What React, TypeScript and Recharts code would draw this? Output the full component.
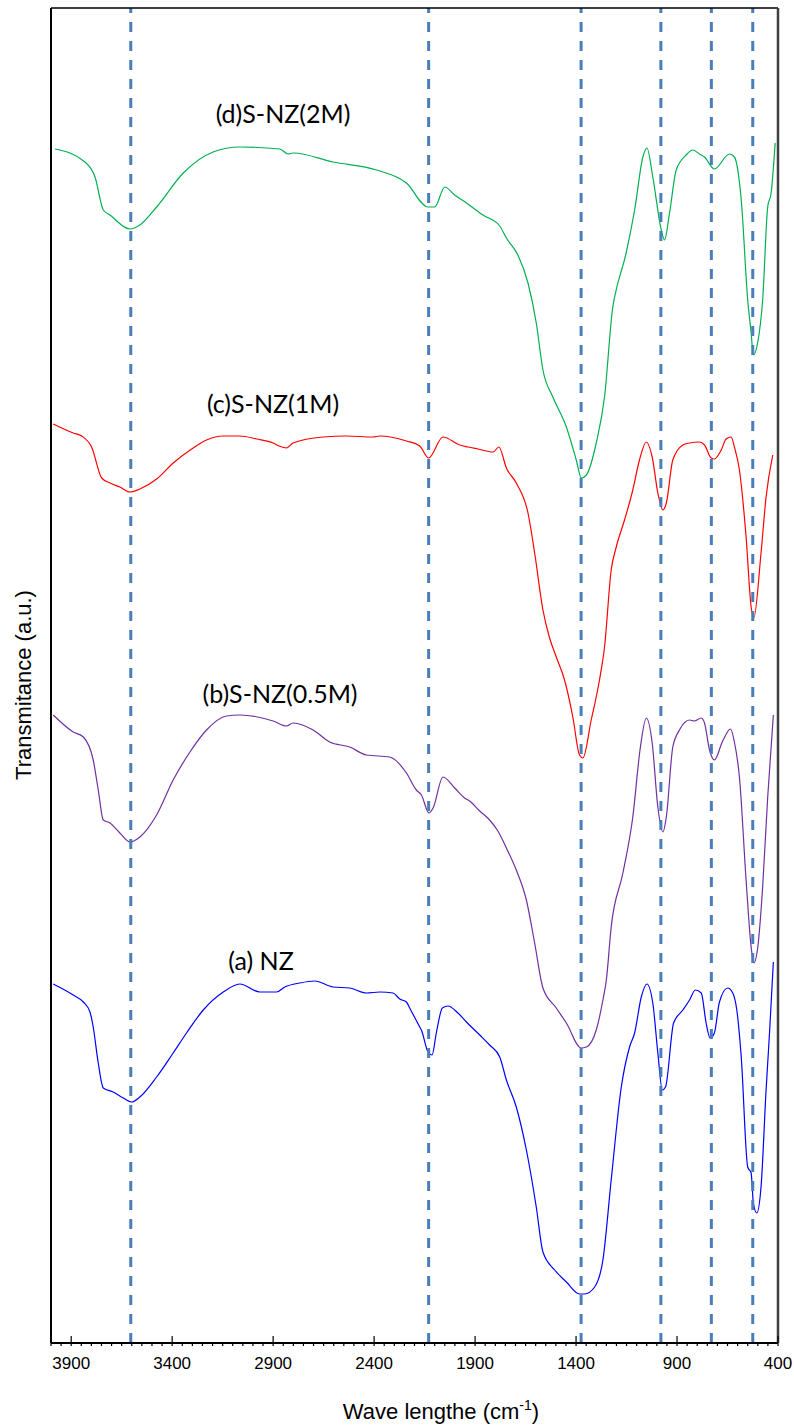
import { LineChart, Line, XAxis, YAxis, ReferenceLine } from 'recharts'

const W = 794
const H = 1427

// FTIR spectra, wavenumber (cm-1) vs transmittance (a.u., curves stacked)
const wnD = [3980, 3832, 3782, 3741, 3708, 3609, 3560, 3477, 3345, 3197, 3065, 2867, 2826, 2801, 2603, 2388, 2240, 2133, 2100, 2050, 2001, 1943, 1861, 1778, 1745, 1688, 1638, 1597, 1564, 1515, 1448, 1399, 1374, 1349, 1300, 1259, 1218, 1209, 1152, 1110, 1069, 1049, 1020, 978, 962, 937, 904, 855, 822, 789, 764, 715, 640, 616, 582, 550, 533, 522, 500, 476, 451, 434, 414]
const tD = [1194, 1181, 1166, 1133, 1128, 1114, 1118, 1136, 1170, 1191, 1196, 1194, 1189, 1190, 1181, 1173, 1160, 1136, 1136, 1156, 1148, 1140, 1128, 1117, 1105, 1088, 1060, 1020, 973, 946, 916, 883, 865, 868, 900, 946, 1036, 1046, 1090, 1133, 1186, 1195, 1166, 1113, 1103, 1130, 1173, 1188, 1193, 1189, 1186, 1174, 1189, 1186, 1143, 1043, 1010, 988, 1001, 1043, 1136, 1150, 1200]

const wnC = [3989, 3890, 3848, 3799, 3749, 3708, 3659, 3609, 3560, 3477, 3395, 3296, 3230, 3147, 3065, 2982, 2900, 2870, 2834, 2801, 2653, 2537, 2405, 2372, 2240, 2174, 2130, 2059, 1976, 1935, 1886, 1811, 1782, 1745, 1696, 1638, 1605, 1564, 1531, 1498, 1457, 1416, 1383, 1366, 1325, 1284, 1259, 1226, 1201, 1160, 1119, 1086, 1052, 1023, 995, 970, 953, 921, 871, 838, 789, 764, 731, 715, 681, 657, 632, 616, 591, 558, 533, 520, 484, 459, 426]
const tC = [919, 910, 907, 896, 865, 860, 856, 851, 854, 864, 880, 895, 903, 907, 907, 904, 900, 897, 895, 900, 906, 907, 906, 907, 902, 897, 885, 906, 898, 896, 894, 891, 896, 875, 860, 830, 790, 733, 705, 686, 663, 626, 588, 585, 623, 663, 696, 773, 796, 823, 853, 883, 901, 886, 850, 833, 840, 883, 898, 900, 901, 898, 885, 884, 893, 904, 906, 896, 873, 806, 736, 725, 790, 846, 888]

const wnB = [3989, 3890, 3840, 3791, 3766, 3741, 3708, 3659, 3609, 3560, 3477, 3395, 3312, 3230, 3131, 3065, 2900, 2834, 2801, 2702, 2620, 2521, 2438, 2323, 2240, 2191, 2166, 2128, 2108, 2059, 2001, 1952, 1927, 1877, 1828, 1787, 1745, 1696, 1646, 1605, 1564, 1498, 1448, 1374, 1349, 1300, 1267, 1250, 1226, 1168, 1119, 1082, 1052, 1023, 995, 970, 953, 921, 888, 838, 814, 780, 764, 739, 715, 676, 635, 616, 591, 558, 533, 520, 500, 476, 451, 423]
const tB = [628, 611, 606, 583, 553, 523, 520, 510, 501, 506, 528, 563, 591, 613, 627, 628, 622, 617, 620, 613, 601, 596, 588, 586, 570, 553, 548, 530, 535, 566, 555, 545, 542, 532, 523, 512, 495, 473, 443, 400, 355, 335, 320, 295, 296, 313, 343, 363, 416, 470, 526, 595, 625, 600, 536, 511, 526, 596, 613, 623, 622, 625, 620, 593, 583, 601, 614, 601, 566, 463, 396, 380, 396, 456, 546, 628]

const wnA = [3989, 3890, 3840, 3807, 3791, 3766, 3741, 3692, 3642, 3601, 3560, 3477, 3395, 3329, 3246, 3147, 3065, 2966, 2883, 2842, 2768, 2694, 2603, 2521, 2438, 2372, 2306, 2273, 2240, 2224, 2174, 2166, 2133, 2113, 2092, 2062, 2034, 1985, 1943, 1877, 1828, 1778, 1745, 1696, 1646, 1597, 1564, 1506, 1448, 1383, 1358, 1308, 1267, 1226, 1176, 1135, 1110, 1077, 1049, 1020, 995, 973, 957, 917, 871, 838, 809, 780, 756, 736, 715, 690, 649, 624, 604, 582, 550, 533, 522, 505, 484, 459, 442, 423]
const tA = [359, 348, 341, 331, 316, 280, 255, 251, 245, 241, 246, 266, 290, 310, 333, 351, 359, 351, 351, 356, 360, 362, 356, 355, 350, 351, 350, 344, 341, 335, 316, 313, 291, 288, 310, 335, 337, 330, 321, 308, 298, 286, 263, 236, 193, 136, 91, 73, 61, 49, 49, 56, 83, 163, 256, 296, 310, 346, 359, 340, 290, 253, 256, 320, 333, 343, 353, 350, 320, 305, 310, 341, 355, 350, 333, 286, 176, 170, 140, 130, 156, 253, 310, 381]

const peakLines = [3605, 2130, 1375, 980, 730, 525]
const majorTicks = [3900, 3400, 2900, 2400, 1900, 1400, 900, 400]
const allTicks = Array.from({ length: 73 }, (_, i) => 4000 - i * 50)

const series = [
  { name: '(d)S-NZ(2M)', wn: wnD, t: tD, color: '#00b050', lx: 283, ly: 113 },
  { name: '(c)S-NZ(1M)', wn: wnC, t: tC, color: '#ff0000', lx: 273, ly: 403 },
  { name: '(b)S-NZ(0.5M)', wn: wnB, t: tB, color: '#7030a0', lx: 280, ly: 693 },
  { name: '(a) NZ', wn: wnA, t: tA, color: '#0000ff', lx: 261, ly: 960 },
]

const zip = (wn: number[], t: number[]) => wn.map((w, i) => ({ wn: w, t: t[i] }))

function Tick(props: any) {
  const { x, y, payload } = props
  const major = majorTicks.includes(payload.value)
  return (
    <g>
      <line x1={x} x2={x} y1={major ? y - 7 : y} y2={y + 3} stroke="#000" strokeWidth={1.2} />
      {major && (
        <text
          x={x}
          y={y + 20}
          textAnchor="middle"
          dominantBaseline="central"
          fontSize={17}
          fontFamily="'Liberation Sans', Arial, sans-serif"
          fill="#000"
        >
          {payload.value}
        </text>
      )}
    </g>
  )
}

const labelFont = "'Liberation Sans', Arial, sans-serif"

export default function App() {
  return (
    <div style={{ position: 'absolute', left: 0, top: 0, width: W, height: H, background: '#fff' }}>
      <LineChart width={W} height={H} margin={{ top: 8, right: 16, left: 51, bottom: 0 }}>
        <XAxis
          dataKey="wn"
          type="number"
          domain={[400, 4000]}
          reversed
          allowDataOverflow
          ticks={allTicks}
          interval={0}
          tick={<Tick />}
          tickLine={false}
          tickSize={0}
          tickMargin={0}
          height={84}
          axisLine={{ stroke: '#000', strokeWidth: 2 }}
        />
        <YAxis type="number" domain={[0, 1335]} hide width={0} allowDataOverflow />
        {series.map((s) => (
          <Line
            key={s.name}
            data={zip(s.wn, s.t)}
            dataKey="t"
            type="monotone"
            stroke={s.color}
            strokeWidth={1.2}
            dot={false}
            isAnimationActive={false}
          />
        ))}
        {peakLines.map((p) => (
          <ReferenceLine key={p} x={p} stroke="#4a7ebb" strokeWidth={3} strokeDasharray="10 9" />
        ))}
        <ReferenceLine x={4000} stroke="#000" strokeWidth={2} />
        <ReferenceLine y={1335} stroke="#000" strokeWidth={1.5} />
        <ReferenceLine x={400} stroke="#404040" strokeWidth={2.5} />
      </LineChart>

      {series.map((s) => (
        <div
          key={s.name}
          style={{
            position: 'absolute',
            left: s.lx,
            top: s.ly,
            transform: 'translate(-50%, -50%)',
            fontFamily: 'Lato, sans-serif',
            fontSize: 25,
            whiteSpace: 'nowrap',
            color: '#000',
          }}
        >
          {s.name}
        </div>
      ))}

      <div
        style={{
          position: 'absolute',
          left: 441,
          top: 1411,
          transform: 'translate(-50%, -50%)',
          fontFamily: labelFont,
          fontSize: 22,
          whiteSpace: 'nowrap',
          color: '#000',
        }}
      >
        Wave lengthe (cm<sup style={{ fontSize: 14 }}>-1</sup>)
      </div>

      <div
        style={{
          position: 'absolute',
          left: 24,
          top: 685,
          transform: 'translate(-50%, -50%) rotate(-90deg)',
          fontFamily: labelFont,
          fontSize: 22,
          whiteSpace: 'nowrap',
          color: '#000',
        }}
      >
        Transmitance (a.u.)
      </div>
    </div>
  )
}
